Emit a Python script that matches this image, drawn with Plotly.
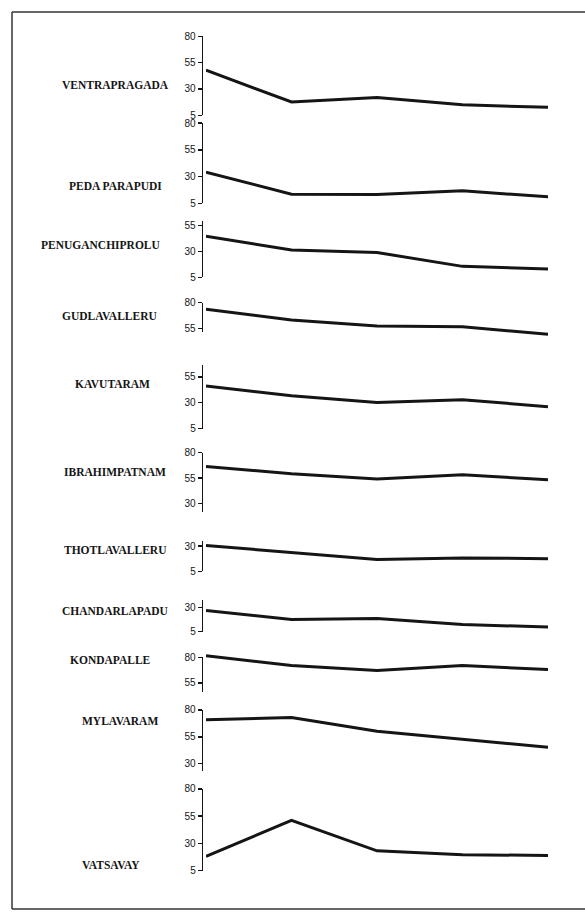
import plotly.graph_objects as go

# ---------------- data ----------------
periods = [1, 2, 3, 4, 5]

villages = ["VENTRAPRAGADA", "PEDA PARAPUDI", "PENUGANCHIPROLU", "GUDLAVALLERU",
            "KAVUTARAM", "IBRAHIMPATNAM", "THOTLAVALLERU", "CHANDARLAPADU",
            "KONDAPALLE", "MYLAVARAM", "VATSAVAY"]

ventrapragada   = [47.8, 17.6, 21.9, 15.0, 12.5]
peda_parapudi   = [34.2, 13.6, 13.3, 16.7, 11.2]
penuganchiprolu = [44.9, 31.6, 29.1, 15.7, 13.2]
gudlavalleru    = [73.7, 63.1, 57.3, 56.6, 49.2]
kavutaram       = [46.2, 36.7, 30.3, 32.9, 26.2]
ibrahimpatnam   = [66.4, 59.3, 54.1, 58.3, 53.4]
thotlavalleru   = [30.6, 23.4, 16.8, 18.2, 17.5]
chandarlapadu   = [27.2, 17.8, 18.9, 12.6, 9.9]
kondapalle      = [81.5, 72.0, 67.2, 72.0, 68.2]
mylavaram       = [70.8, 72.9, 60.1, 53.0, 45.3]
vatsavay        = [18.0, 51.2, 23.1, 19.5, 18.9]

series = [ventrapragada, peda_parapudi, penuganchiprolu, gudlavalleru, kavutaram,
          ibrahimpatnam, thotlavalleru, chandarlapadu, kondapalle, mylavaram, vatsavay]

tick_values = [[5, 30, 55, 80], [5, 30, 55, 80], [5, 30, 55], [55, 80], [5, 30, 55],
               [30, 55, 80], [5, 30], [5, 30], [55, 80], [30, 55, 80], [5, 30, 55, 80]]

# axis extents (values) for each panel
axis_hi = [80, 80, 59.5, 80, 66.8, 80, 35.5, 38, 80, 80, 80]
axis_lo = [5, 5, 5, 51.8, 5, 21.5, 5, 5, 46.3, 23.3, 5]

# ---------------- layout geometry (pixels) ----------------
W, H = 585, 918
axis_top_px = [30.7, 118.7, 218, 300.7, 363.3, 452.7, 541.7, 602, 660, 713.3, 793.3]
axis_bot_px = [110.7, 200, 275, 330, 428.3, 512.7, 572.7, 634, 695, 775, 876]
label_cx = [115, 115.5, 100.5, 109.5, 112, 114.5, 115, 115.8, 110.5, 119.5, 110.5]
label_cy = [80, 182.7, 241.7, 314, 382.7, 472.3, 550.7, 612.7, 662.7, 724, 870.7]
axis_x_px = 201.7
x_start_px, x_end_px = 206, 548

INK = "#151515"

def py(px):
    return 1 - px / H

fig = go.Figure()
layout = dict(
    width=W, height=H,
    margin=dict(l=0, r=0, t=0, b=0),
    paper_bgcolor="white", plot_bgcolor="rgba(0,0,0,0)",
    showlegend=False,
    xaxis=dict(domain=[x_start_px / W, x_end_px / W], range=[periods[0], periods[-1]],
               visible=False, fixedrange=True),
)

pad_px = 14
annotations = []
n = len(villages)
for i in range(n):
    vis_id = 2 * i + 1
    dat_id = 2 * i + 2
    top, bot = axis_top_px[i], axis_bot_px[i]
    hi, lo = axis_hi[i], axis_lo[i]
    ppu = (bot - top) / (hi - lo)  # px per unit
    # visible axis
    layout[f"yaxis{vis_id}"] = dict(
        domain=[py(bot), py(top)], range=[lo, hi],
        anchor="free", position=axis_x_px / W, side="left",
        showline=True, linecolor=INK, linewidth=1.6,
        ticks="outside", ticklen=4, tickwidth=1.4, tickcolor=INK,
        tickvals=tick_values[i], ticktext=[str(v) for v in tick_values[i]],
        tickfont=dict(family="Liberation Sans", size=10, color=INK),
        showgrid=False, zeroline=False, fixedrange=True,
    )
    # data axis (same scale, padded so nothing gets clipped)
    dlo = lo - pad_px / ppu
    dhi = hi + pad_px / ppu
    layout[f"yaxis{dat_id}"] = dict(
        domain=[py(bot + pad_px), py(top - pad_px)], range=[dlo, dhi],
        anchor="x", visible=False, showgrid=False, zeroline=False, fixedrange=True,
    )
    fig.add_trace(go.Scatter(x=[], y=[], xaxis="x", yaxis=f"y{vis_id}",
                             hoverinfo="skip", showlegend=False))
    fig.add_trace(go.Scatter(x=periods, y=series[i], xaxis="x", yaxis=f"y{dat_id}",
                             mode="lines", line=dict(color=INK, width=3),
                             name=villages[i], showlegend=False))
    annotations.append(dict(
        text="<b>" + villages[i] + "</b>", xref="paper", yref="paper",
        x=label_cx[i] / W, y=py(label_cy[i]), xanchor="center", yanchor="middle",
        showarrow=False, font=dict(family="Liberation Serif", size=11.5, color=INK),
    ))

layout["annotations"] = annotations
frame = dict(color="#333333", width=1.5)
layout["shapes"] = [
    dict(type="line", xref="paper", yref="paper", x0=12 / W, x1=1.0, y0=py(6), y1=py(6), line=frame),
    dict(type="line", xref="paper", yref="paper", x0=12 / W, x1=12 / W, y0=py(6), y1=py(915), line=frame),
    dict(type="line", xref="paper", yref="paper", x0=12 / W, x1=1.0, y0=py(915), y1=py(915), line=frame),
]
fig.update_layout(**layout)

fig.write_html("out.html", config={"displayModeBar": False, "staticPlot": True},
               post_script="document.body.style.margin='0';document.body.style.overflow='hidden';")
